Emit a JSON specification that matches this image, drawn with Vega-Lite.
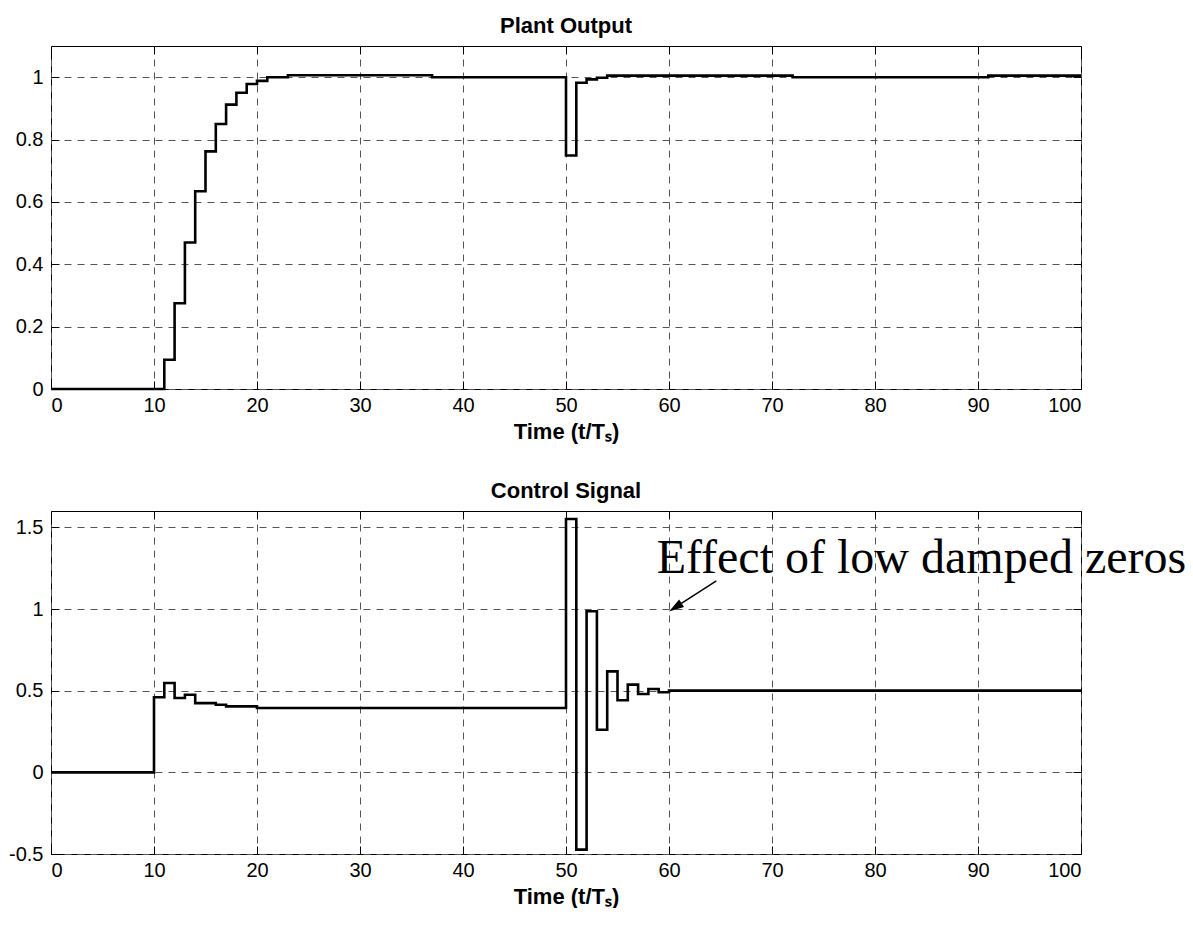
{
  "$schema": "https://vega.github.io/schema/vega-lite/v6.json",
  "background": "white",
  "padding": {"left": 8, "top": 14, "right": 0, "bottom": 0},
  "spacing": 36,
  "config": {
    "view": {"stroke": "black", "strokeWidth": 1},
    "axis": {
      "domain": false,
      "grid": true,
      "gridColor": "#555",
      "gridDash": [7, 6],
      "gridWidth": 1,
      "gridOpacity": 1,
      "ticks": true,
      "tickSize": -8,
      "tickColor": "black",
      "tickWidth": 1,
      "labelFont": "Liberation Sans",
      "labelFontSize": 20,
      "labelColor": "black",
      "titleFont": "Liberation Sans",
      "titleFontSize": 22,
      "titleFontWeight": "bold",
      "titleColor": "black"
    },
    "title": {"font": "Liberation Sans", "fontSize": 22, "fontWeight": "bold", "color": "black", "offset": 8}
  },
  "datasets": {
    "plant": [
      {"t": 0, "y": 0}, {"t": 11, "y": 0.094}, {"t": 12, "y": 0.275}, {"t": 13, "y": 0.47},
      {"t": 14, "y": 0.634}, {"t": 15, "y": 0.762}, {"t": 16, "y": 0.85}, {"t": 17, "y": 0.912},
      {"t": 18, "y": 0.95}, {"t": 19, "y": 0.978}, {"t": 20, "y": 0.988}, {"t": 21, "y": 1.0},
      {"t": 23, "y": 1.006}, {"t": 37, "y": 1.0}, {"t": 50, "y": 0.749}, {"t": 51, "y": 0.982},
      {"t": 52, "y": 0.993}, {"t": 53, "y": 0.998}, {"t": 54, "y": 1.005}, {"t": 72, "y": 1.0},
      {"t": 91, "y": 1.005}, {"t": 100, "y": 1.005}
    ],
    "control": [
      {"t": 0, "u": 0}, {"t": 10, "u": 0.46}, {"t": 11, "u": 0.547}, {"t": 12, "u": 0.455},
      {"t": 13, "u": 0.475}, {"t": 14, "u": 0.424}, {"t": 16, "u": 0.414}, {"t": 17, "u": 0.404},
      {"t": 20, "u": 0.394}, {"t": 50, "u": 1.551}, {"t": 51, "u": -0.473}, {"t": 52, "u": 0.986},
      {"t": 53, "u": 0.261}, {"t": 54, "u": 0.618}, {"t": 55, "u": 0.441}, {"t": 56, "u": 0.537},
      {"t": 57, "u": 0.48}, {"t": 58, "u": 0.51}, {"t": 59, "u": 0.49}, {"t": 60, "u": 0.5},
      {"t": 100, "u": 0.5}
    ],
    "note": [
      {"t": 58.8, "u": 1.218, "label": "Effect of low damped zeros"}
    ],
    "arrow": [
      {"t": 64.6, "u": 1.172, "t2": 61.2, "u2": 1.035, "ht": 60.61, "hu": 1.01}
    ]
  },
  "vconcat": [
    {
      "title": "Plant Output",
      "width": 1030,
      "height": 343,
      "data": {"name": "plant"},
      "resolve": {"axis": {"x": "independent", "y": "independent"}},
      "layer": [
        {
          "mark": {"type": "line", "interpolate": "step-after", "color": "black", "strokeWidth": 2.6},
          "encoding": {
            "x": {"field": "t", "type": "quantitative", "scale": {"domain": [0, 100], "nice": false},
                  "axis": {"values": [0,10,20,30,40,50,60,70,80,90,100], "title": "Time (t/Tₛ)", "labelPadding": 14, "titlePadding": 6}},
            "y": {"field": "y", "type": "quantitative", "scale": {"domain": [0, 1.1], "nice": false, "zero": false},
                  "axis": {"values": [0, 0.2, 0.4, 0.6, 0.8, 1], "labelExpr": "datum.value + ''", "title": null, "labelPadding": 16}}
          }
        },
        {
          "mark": {"type": "line", "opacity": 0},
          "encoding": {
            "x": {"field": "t", "type": "quantitative",
                  "axis": {"orient": "top", "values": [0,10,20,30,40,50,60,70,80,90,100], "labels": false, "grid": false, "title": null}},
            "y": {"field": "y", "type": "quantitative",
                  "axis": {"orient": "right", "values": [0, 0.2, 0.4, 0.6, 0.8, 1], "labels": false, "grid": false, "title": null}}
          }
        }
      ]
    },
    {
      "title": "Control Signal",
      "width": 1030,
      "height": 343,
      "resolve": {"axis": {"x": "independent", "y": "independent"}},
      "layer": [
        {
          "data": {"name": "control"},
          "mark": {"type": "line", "interpolate": "step-after", "color": "black", "strokeWidth": 2.6},
          "encoding": {
            "x": {"field": "t", "type": "quantitative", "scale": {"domain": [0, 100], "nice": false},
                  "axis": {"values": [0,10,20,30,40,50,60,70,80,90,100], "title": "Time (t/Tₛ)", "labelPadding": 14, "titlePadding": 6}},
            "y": {"field": "u", "type": "quantitative", "scale": {"domain": [-0.5, 1.6], "nice": false, "zero": false},
                  "axis": {"values": [-0.5, 0, 0.5, 1, 1.5], "labelExpr": "datum.value + ''", "title": null, "labelPadding": 16}}
          }
        },
        {
          "data": {"name": "control"},
          "mark": {"type": "line", "opacity": 0},
          "encoding": {
            "x": {"field": "t", "type": "quantitative",
                  "axis": {"orient": "top", "values": [0,10,20,30,40,50,60,70,80,90,100], "labels": false, "grid": false, "title": null}},
            "y": {"field": "u", "type": "quantitative",
                  "axis": {"orient": "right", "values": [-0.5, 0, 0.5, 1, 1.5], "labels": false, "grid": false, "title": null}}
          }
        },
        {
          "data": {"name": "note"},
          "mark": {"type": "text", "font": "Liberation Serif", "fontSize": 48, "align": "left", "baseline": "alphabetic", "color": "black"},
          "encoding": {
            "x": {"field": "t", "type": "quantitative", "axis": null},
            "y": {"field": "u", "type": "quantitative", "axis": null},
            "text": {"field": "label"}
          }
        },
        {
          "data": {"name": "arrow"},
          "mark": {"type": "rule", "color": "black", "strokeWidth": 1.5},
          "encoding": {
            "x": {"field": "t", "type": "quantitative", "axis": null},
            "y": {"field": "u", "type": "quantitative", "axis": null},
            "x2": {"field": "t2"},
            "y2": {"field": "u2"}
          }
        },
        {
          "data": {"name": "arrow"},
          "mark": {"type": "point", "shape": "M0,-1L0.6,1L-0.6,1Z", "filled": true, "color": "black", "opacity": 1, "size": 225, "angle": 237},
          "encoding": {
            "x": {"field": "ht", "type": "quantitative", "axis": null},
            "y": {"field": "hu", "type": "quantitative", "axis": null}
          }
        }
      ]
    }
  ]
}
